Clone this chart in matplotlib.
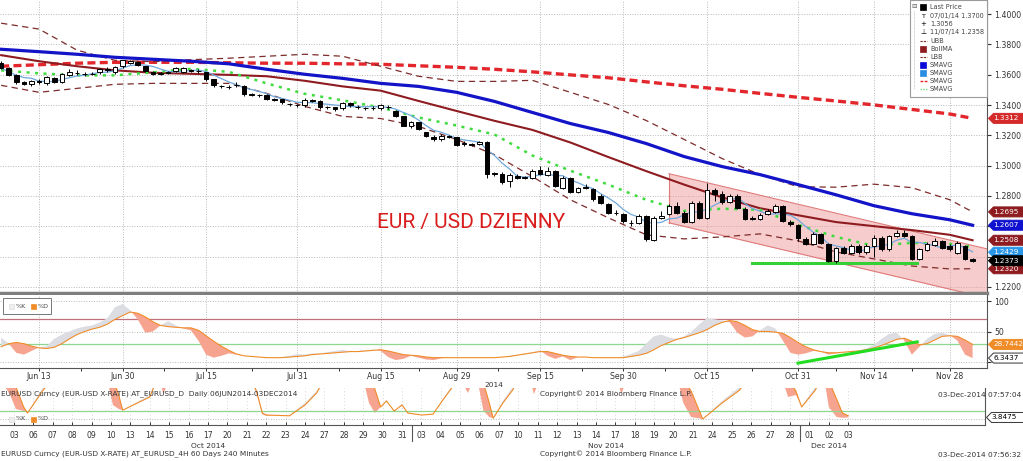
import numpy as np
import pandas as pd
import matplotlib
matplotlib.use("Agg")
import matplotlib.pyplot as plt
from matplotlib.patches import Rectangle, Polygon
from matplotlib.lines import Line2D
import matplotlib.transforms as mtransforms

# ---------------- data ----------------
start_date = "2014-06-06"
end_date = "2014-12-03"

opens = [1.3676, 1.3643, 1.3596, 1.3550, 1.3537, 1.3556, 1.3543, 1.3576, 1.3550, 1.3596,
         1.3612, 1.3605, 1.3603, 1.3616, 1.3636, 1.3616, 1.3656, 1.3676, 1.3682, 1.3656,
         1.3616, 1.3607, 1.3614, 1.3623, 1.3616, 1.3629, 1.3625, 1.3616, 1.3570, 1.3525,
         1.3519, 1.3530, 1.3523, 1.3470, 1.3466, 1.3464, 1.3437, 1.3437, 1.3406, 1.3400,
         1.3398, 1.3431, 1.3424, 1.3386, 1.3384, 1.3378, 1.3411, 1.3386, 1.3380, 1.3378,
         1.3378, 1.3386, 1.3364, 1.3325, 1.3259, 1.3285, 1.3219, 1.3192, 1.3173, 1.3194,
         1.3186, 1.3148, 1.3141, 1.3146, 1.3153, 1.2949, 1.2947, 1.2901, 1.2934, 1.2923,
         1.2921, 1.2974, 1.2941, 1.2967, 1.2855, 1.2921, 1.2828, 1.2857, 1.2848, 1.2802,
         1.2749, 1.2691, 1.2683, 1.2625, 1.2623, 1.2669, 1.2510, 1.2656, 1.2683, 1.2736,
         1.2689, 1.2630, 1.2755, 1.2656, 1.2842, 1.2815, 1.2762, 1.2802, 1.2716, 1.2652,
         1.2650, 1.2683, 1.2696, 1.2736, 1.2630, 1.2610, 1.2517, 1.2484, 1.2550, 1.2484,
         1.2371, 1.2458, 1.2424, 1.2471, 1.2431, 1.2471, 1.2524, 1.2451, 1.2537, 1.2557,
         1.2537, 1.2385, 1.2444, 1.2477, 1.2504, 1.2471, 1.2424, 1.2471, 1.2385]
closes = [1.3643, 1.3596, 1.3550, 1.3537, 1.3556, 1.3550, 1.3583, 1.3550, 1.3603, 1.3616,
          1.3609, 1.3603, 1.3605, 1.3636, 1.3634, 1.3649, 1.3695, 1.3689, 1.3662, 1.3623,
          1.3603, 1.3609, 1.3616, 1.3643, 1.3643, 1.3627, 1.3623, 1.3570, 1.3530, 1.3523,
          1.3517, 1.3532, 1.3470, 1.3468, 1.3464, 1.3437, 1.3435, 1.3417, 1.3404, 1.3398,
          1.3431, 1.3429, 1.3384, 1.3384, 1.3371, 1.3411, 1.3398, 1.3384, 1.3378, 1.3380,
          1.3398, 1.3384, 1.3325, 1.3265, 1.3285, 1.3245, 1.3199, 1.3173, 1.3199, 1.3192,
          1.3139, 1.3146, 1.3139, 1.3159, 1.2947, 1.2947, 1.2894, 1.2941, 1.2921, 1.2921,
          1.2967, 1.2947, 1.2967, 1.2868, 1.2921, 1.2828, 1.2855, 1.2855, 1.2782, 1.2755,
          1.2689, 1.2689, 1.2636, 1.2623, 1.2669, 1.2517, 1.2656, 1.2669, 1.2736, 1.2689,
          1.2630, 1.2755, 1.2656, 1.2842, 1.2815, 1.2762, 1.2802, 1.2722, 1.2650, 1.2650,
          1.2676, 1.2702, 1.2736, 1.2636, 1.2616, 1.2524, 1.2484, 1.2550, 1.2491, 1.2371,
          1.2458, 1.2424, 1.2471, 1.2431, 1.2471, 1.2524, 1.2451, 1.2537, 1.2557, 1.2537,
          1.2385, 1.2451, 1.2484, 1.2504, 1.2458, 1.2451, 1.2491, 1.2385, 1.2373]
highs = [1.3690, 1.3650, 1.3605, 1.3560, 1.3562, 1.3570, 1.3590, 1.3585, 1.3610, 1.3640,
         1.3630, 1.3620, 1.3618, 1.3645, 1.3648, 1.3660, 1.3697, 1.3700, 1.3690, 1.3660,
         1.3625, 1.3620, 1.3625, 1.3650, 1.3650, 1.3640, 1.3635, 1.3620, 1.3575, 1.3535,
         1.3530, 1.3550, 1.3530, 1.3480, 1.3475, 1.3470, 1.3445, 1.3440, 1.3415, 1.3410,
         1.3445, 1.3440, 1.3430, 1.3395, 1.3390, 1.3420, 1.3420, 1.3400, 1.3390, 1.3392,
         1.3410, 1.3398, 1.3370, 1.3330, 1.3295, 1.3290, 1.3225, 1.3200, 1.3210, 1.3205,
         1.3190, 1.3160, 1.3150, 1.3165, 1.3160, 1.2960, 1.2955, 1.2950, 1.2945, 1.2935,
         1.2975, 1.2995, 1.2990, 1.2972, 1.2930, 1.2928, 1.2862, 1.2880, 1.2855, 1.2810,
         1.2755, 1.2705, 1.2690, 1.2640, 1.2680, 1.2675, 1.2665, 1.2700, 1.2745, 1.2760,
         1.2700, 1.2765, 1.2770, 1.2888, 1.2850, 1.2830, 1.2815, 1.2810, 1.2725, 1.2665,
         1.2690, 1.2712, 1.2745, 1.2740, 1.2640, 1.2615, 1.2530, 1.2560, 1.2555, 1.2490,
         1.2465, 1.2470, 1.2480, 1.2480, 1.2480, 1.2545, 1.2535, 1.2545, 1.2575, 1.2575,
         1.2545, 1.2460, 1.2495, 1.2520, 1.2510, 1.2480, 1.2500, 1.2475, 1.2392]
lows = [1.3635, 1.3590, 1.3540, 1.3530, 1.3525, 1.3540, 1.3530, 1.3545, 1.3545, 1.3590,
        1.3595, 1.3592, 1.3595, 1.3605, 1.3620, 1.3605, 1.3645, 1.3670, 1.3655, 1.3615,
        1.3595, 1.3598, 1.3605, 1.3615, 1.3610, 1.3618, 1.3612, 1.3560, 1.3520, 1.3515,
        1.3505, 1.3520, 1.3460, 1.3460, 1.3455, 1.3430, 1.3425, 1.3410, 1.3395, 1.3390,
        1.3390, 1.3420, 1.3375, 1.3372, 1.3360, 1.3370, 1.3390, 1.3375, 1.3370, 1.3368,
        1.3370, 1.3375, 1.3320, 1.3260, 1.3250, 1.3238, 1.3190, 1.3165, 1.3165, 1.3180,
        1.3130, 1.3130, 1.3128, 1.3138, 1.2920, 1.2935, 1.2880, 1.2860, 1.2910, 1.2910,
        1.2915, 1.2940, 1.2935, 1.2860, 1.2845, 1.2820, 1.2820, 1.2845, 1.2765, 1.2745,
        1.2680, 1.2675, 1.2625, 1.2605, 1.2615, 1.2500, 1.2505, 1.2645, 1.2675, 1.2680,
        1.2620, 1.2620, 1.2650, 1.2645, 1.2770, 1.2750, 1.2755, 1.2715, 1.2640, 1.2640,
        1.2640, 1.2675, 1.2690, 1.2630, 1.2605, 1.2505, 1.2475, 1.2478, 1.2480, 1.2365,
        1.2358, 1.2415, 1.2415, 1.2420, 1.2420, 1.2400, 1.2440, 1.2440, 1.2530, 1.2530,
        1.2375, 1.2380, 1.2435, 1.2470, 1.2450, 1.2440, 1.2420, 1.2375, 1.2365]

# indicator lines, read every 5 trading days (day index)
line_idx = [0, 5, 10, 15, 20, 25, 30, 35, 40, 45, 50, 55, 60, 65, 70, 75, 80, 85, 90,
            95, 100, 105, 110, 115, 120, 125, 128]
sma_blue = [1.3768, 1.3752, 1.3735, 1.3715, 1.3702, 1.3689, 1.3672, 1.3636, 1.3603, 1.3576,
            1.3543, 1.3523, 1.3484, 1.3424, 1.3351, 1.3278, 1.3219, 1.3146, 1.3060, 1.2994,
            1.2941, 1.2875, 1.2808, 1.2736, 1.2683, 1.2643, 1.2607]
sma_red = [1.3656, 1.3666, 1.3676, 1.3682, 1.3682, 1.3682, 1.3679, 1.3676, 1.3676, 1.3672,
           1.3669, 1.3659, 1.3649, 1.3636, 1.3619, 1.3599, 1.3580, 1.3553, 1.3527, 1.3504,
           1.3477, 1.3451, 1.3427, 1.3401, 1.3371, 1.3341, 1.3312]
boll_ma = [1.3729, 1.3689, 1.3656, 1.3629, 1.3613, 1.3606, 1.3599, 1.3590, 1.3560, 1.3523,
           1.3495, 1.3427, 1.3361, 1.3296, 1.3236, 1.3153, 1.3057, 1.2964, 1.2875, 1.2791,
           1.2719, 1.2673, 1.2628, 1.2601, 1.2575, 1.2544, 1.2508]
sma_green = [1.3629, 1.3609, 1.3596, 1.3596, 1.3616, 1.3639, 1.3619, 1.3543, 1.3474, 1.3431,
             1.3384, 1.3318, 1.3265, 1.3206, 1.3067, 1.2967, 1.2875, 1.2775, 1.2702, 1.2716,
             1.2709, 1.2610, 1.2530, 1.2471, 1.2491, 1.2484, 1.2464]
boll_upper = [1.3940, 1.3901, 1.3762, 1.3695, 1.3686, 1.3699, 1.3709, 1.3722, 1.3735, 1.3722,
              1.3656, 1.3590, 1.3556, 1.3556, 1.3563, 1.3484, 1.3404, 1.3298, 1.3173, 1.3047,
              1.2941, 1.2861, 1.2858, 1.2878, 1.2855, 1.2775, 1.2695]
boll_lower = [1.3530, 1.3484, 1.3510, 1.3537, 1.3543, 1.3543, 1.3543, 1.3477, 1.3391, 1.3325,
              1.3311, 1.3259, 1.3173, 1.3073, 1.2928, 1.2775, 1.2656, 1.2544, 1.2517, 1.2530,
              1.2550, 1.2504, 1.2431, 1.2385, 1.2338, 1.2319, 1.2320]

# channel (day index) and support line
channel_x = [88, 130]
channel_top = [1.2947, 1.2450]
channel_bot = [1.2623, 1.2126]
support_x = [99, 120.7]
support_y = [1.2358, 1.2358]

tick_dates = ["2014-06-13", "2014-06-30", "2014-07-15", "2014-07-31", "2014-08-15", "2014-08-29",
              "2014-09-15", "2014-09-30", "2014-10-15", "2014-10-31", "2014-11-14", "2014-11-28"]
tick_labels = ["Jun 13", "Jun 30", "Jul 15", "Jul 31", "Aug 15", "Aug 29",
               "Sep 15", "Sep 30", "Oct 15", "Oct 31", "Nov 14", "Nov 28"]

# stochastics (daily), one value per day
stoch_k = [40, 30, 15, 12, 18, 24, 26, 38, 45, 50, 55, 58, 60, 65, 72, 90, 95, 85, 70, 48,
           50, 60, 67, 60, 55, 52, 35, 12, 7, 10, 14, 12, 10, 9, 8, 7, 7, 8, 10, 13,
           12, 14, 14, 16, 18, 20, 17, 18, 19, 20, 18, 8, 3, 5, 10, 7, 4, 3, 6, 7,
           7, 8, 7, 8, 7, 7, 8, 10, 12, 14, 16, 19, 10, 5, 9, 3, 8, 8, 7, 7,
           7, 7, 9, 13, 18, 30, 42, 45, 40, 38, 42, 50, 62, 72, 70, 68, 65, 48, 40, 42,
           52, 60, 55, 35, 15, 12, 14, 18, 17, 12, 14, 16, 18, 19, 22, 28, 38, 46, 48, 35,
           12, 25, 38, 46, 48, 44, 35, 12, 6.3437]
stoch_d = [25, 30, 32, 30, 26, 23, 22, 24, 30, 38, 45, 50, 54, 57, 62, 70, 76, 82, 80, 74,
           66, 60, 58, 57, 56, 56, 52, 43, 34, 26, 19, 13, 10, 9, 8, 7, 7, 7, 8, 9,
           10, 12, 13, 14, 15, 16, 17, 17, 18, 19, 20, 18, 15, 12, 11, 10, 8, 7, 7, 7,
           7, 7, 7, 7, 7, 7, 8, 9, 11, 13, 15, 17, 17, 14, 11, 9, 8, 8, 7, 7,
           7, 7, 7, 9, 11, 14, 20, 27, 32, 37, 40, 44, 48, 53, 60, 65, 68, 66, 60, 53,
           50, 50, 49, 47, 40, 32, 25, 20, 17, 15, 15, 16, 17, 18, 20, 23, 27, 32, 37, 39,
           34, 28, 30, 36, 42, 43, 42, 36, 28.7442]
stoch_trend_x = [105, 120.7]
stoch_trend_y = [-2, 33]

# 4H stochastics (x in trading-day units from 03 Oct)
h4_start, h4_end = "2014-10-03", "2014-12-03"
h4_x = [-0.7, -0.2, 0.1, 0.5, 0.7, 1.5, 2.0, 4.8, 5.1, 5.4, 5.6, 7.0, 7.3, 7.5, 7.7, 8.0,
        12.2, 12.5, 12.8, 13.0, 14.2, 15.0, 15.6, 16.0, 18.0, 18.3, 18.6, 18.9, 19.2, 19.6,
        20.0, 20.3, 21.0, 21.6, 22.1, 22.6, 23.0, 23.4, 23.7, 23.9, 24.2, 24.5, 24.7, 25.2,
        25.7, 26.0, 26.6, 26.8, 27.1, 31.1, 31.3, 31.6, 34.2, 34.5, 34.9, 35.5, 36.5, 37.4,
        37.8, 39.6, 39.9, 40.3, 40.6, 41.3, 41.6, 41.8, 42.0, 42.4, 42.7, 43.0]
h4_k = [100, 60, 25, 20, 15, 80, 100, 100, 35, 25, 22, 60, 100, 100, 62, 100,
        100, 65, 12, 8, 10, 40, 70, 100, 100, 40, 15, 30, 48, 18,
        38, 14, 10, 12, 50, 85, 100, 65, 100, 95, 20, 5, 2, 45,
        80, 100, 100, 62, 100, 100, 62, 100, 100, 40, 5, 0, 45, 80,
        100, 100, 55, 60, 32, 80, 100, 90, 30, 5, 3, 3.8475]
h4_d = [100, 100, 80, 30, 15, 72, 100, 100, 100, 60, 22, 55, 90, 100, 100, 100,
        100, 70, 15, 10, 8, 35, 65, 100, 100, 100, 75, 30, 45, 20,
        35, 15, 10, 12, 47, 80, 100, 100, 100, 100, 90, 40, 2, 40,
        72, 100, 100, 100, 100, 100, 100, 100, 100, 100, 70, 0, 40, 72,
        100, 100, 100, 70, 30, 72, 100, 100, 95, 50, 15, 8]

legend_labels = ["Last Price", "07/01/14 1.3700", "1.3056", "11/07/14 1.2358", "UBB", "BollMA",
                 "LBB", "SMAVG", "SMAVG", "SMAVG", "SMAVG"]

# ---------------- colours ----------------
C_RED = "#e3262b"
C_BLUE = "#1313c8"
C_DKRED = "#8e1b1f"
C_BAND = "#7d2b2b"
C_GREEN = "#3fdc3f"
C_LBLUE = "#6fa8dc"
C_ORANGE = "#f08c28"
C_SALMON = "#f6a48f"
C_KGRAY = "#dcdce3"
GRID = "#b9b9b9"

W, H = 1023, 461
fig = plt.figure(figsize=(W / 100, H / 100), dpi=100)
plt.rcParams["font.family"] = ["DejaVu Sans"]


def fr(x0, y0, x1, y1):
    return [x0 / W, 1 - y1 / H, (x1 - x0) / W, (y1 - y0) / H]


def fy(y):
    return 1 - y / H


ax = fig.add_axes(fr(0, 0, 987, 293))
sto = fig.add_axes(fr(0, 295, 987, 368))
h4 = fig.add_axes(fr(0, 388, 985, 425))

dates = pd.bdate_range(start_date, end_date)
idx = np.arange(len(dates))
o = np.array(opens); c = np.array(closes); hi = np.array(highs); lo = np.array(lows)
tick_pos = dates.get_indexer(pd.to_datetime(tick_dates))

XL = (-0.15, 129.9)

# ---------------- main panel ----------------
ax.set_xlim(*XL)
ax.set_ylim(1.2160, 1.4093)
ax.set_xticks(tick_pos)
ax.tick_params(axis="x", length=0, labelbottom=False)
yt = np.round(np.arange(1.22, 1.4001, 0.02), 2)
ax.set_yticks(yt)
ax.set_yticklabels(["" if v in (1.24, 1.26) else f"{v:.4f}" for v in yt])
ax.yaxis.tick_right()
ax.tick_params(axis="y", direction="out", length=3, width=0.8, pad=2,
               labelsize=5.6, colors="#333333")
ax.grid(True, color=GRID, ls=(0, (1, 1.6)), lw=0.7)
ax.set_axisbelow(True)
for s in ("left", "top"):
    ax.spines[s].set_visible(False)
ax.spines["right"].set_color("#555555"); ax.spines["right"].set_linewidth(0.8)
ax.spines["bottom"].set_color("#7f7f7f"); ax.spines["bottom"].set_linewidth(2.5)

# channel
ax.fill_between(channel_x, channel_bot, channel_top, color="#f09a9a", alpha=0.5, lw=0, zorder=1)
ax.plot(channel_x, channel_top, color="#e07a7a", lw=0.8, zorder=1.5)
ax.plot(channel_x, channel_bot, color="#e07a7a", lw=0.8, zorder=1.5)
ax.plot([channel_x[0], channel_x[0]], [channel_bot[0], channel_top[0]], color="#e07a7a", lw=0.8, zorder=1.5)

ax.plot(line_idx, sma_red, color=C_RED, lw=2.4, dashes=(2.4, 1.3), zorder=3)
ax.plot(line_idx, boll_upper, color=C_BAND, lw=0.9, dashes=(5, 3.5), zorder=3)
ax.plot(line_idx, boll_lower, color=C_BAND, lw=0.9, dashes=(5, 3.5), zorder=3)
ax.plot(line_idx, boll_ma, color=C_DKRED, lw=1.5, zorder=3)
ax.plot(line_idx, sma_blue, color=C_BLUE, lw=2.3, zorder=3)
ax.plot(line_idx, sma_green, color=C_GREEN, lw=1.8, dashes=(1.2, 2.2), zorder=3)
sma5 = pd.Series(c).rolling(5, min_periods=1).mean()
ax.plot(idx, sma5, color=C_LBLUE, lw=0.9, zorder=4)
ax.plot(support_x, support_y, color="#35d035", lw=2.2, zorder=4)

# candles
up = c >= o
ax.vlines(idx, lo, hi, color="black", lw=0.7, zorder=5)
bb = np.minimum(o, c); bh = np.abs(c - o)
ax.bar(idx[up], bh[up], bottom=bb[up], width=0.62, color="white", edgecolor="black", lw=0.7, zorder=6)
ax.bar(idx[~up], bh[~up], bottom=bb[~up], width=0.62, color="black", edgecolor="black", lw=0.7, zorder=6)

ax.text(471 / 987, 1 - 222 / 293, "EUR / USD DZIENNY", transform=ax.transAxes, ha="center",
        va="center", color="#d91c1c", fontsize=15, family=["Roboto", "DejaVu Sans"])

# ---------------- stochastic panel ----------------
sto.set_xlim(*XL)
sto.set_ylim(-10, 110)
K = np.array(stoch_k, dtype=float); D = np.array(stoch_d, dtype=float)
sto.fill_between(idx, K, D, where=K < D, interpolate=True, color=C_SALMON, lw=0, zorder=2)
sto.fill_between(idx, K, D, where=K >= D, interpolate=True, color=C_KGRAY, lw=0, zorder=2)
sto.plot(idx, D, color=C_ORANGE, lw=0.8, zorder=3)
sto.axhline(70, color="#c0707c", lw=0.9, zorder=1.5)
sto.axhline(30, color="#8fd68f", lw=0.9, zorder=1.5)
sto.plot(stoch_trend_x, stoch_trend_y, color="#22dd22", lw=2.2, zorder=4)
sto.set_yticks([0, 50, 100])
sto.set_yticklabels(["", "50", "100"])
sto.yaxis.tick_right()
sto.tick_params(axis="y", direction="out", length=3, width=0.8, pad=2, labelsize=5.6, colors="#333333")
sto.set_xticks(tick_pos)
sto.set_xticklabels(tick_labels)
sto.set_xticks((tick_pos[:-1] + tick_pos[1:]) / 2, minor=True)
sto.tick_params(axis="x", which="both", direction="out", length=2.5, width=0.7, pad=0.5,
                labelsize=5.6, colors="#333333")
sto.grid(True, color=GRID, ls=(0, (1, 1.6)), lw=0.7)
sto.set_axisbelow(True)
for s in ("left", "top"):
    sto.spines[s].set_visible(False)
for s in ("right", "bottom"):
    sto.spines[s].set_color("#555555"); sto.spines[s].set_linewidth(0.8)

# ---------------- 4H panel ----------------
days4 = pd.bdate_range(h4_start, h4_end)
d4 = np.arange(len(days4))
h4.set_xlim(-0.72, 50.05)
h4.set_ylim(-15, 77.5)
hx = np.array(h4_x); hk = np.array(h4_k, dtype=float); hd = np.array(h4_d, dtype=float)
h4.fill_between(hx, hk, hd, where=hk < hd, interpolate=True, color=C_SALMON, lw=0, zorder=2)
h4.fill_between(hx, hk, hd, where=hk >= hd, interpolate=True, color=C_KGRAY, lw=0, zorder=2)
h4.plot(hx, hd, color=C_ORANGE, lw=0.8, zorder=3)
h4.axhline(20, color="#8fd68f", lw=0.9)
h4.axhline(0, color=GRID, lw=0.7, ls=(0, (1, 1.6)))
h4.set_xticks(d4)
h4.set_xticklabels([d.strftime("%d") for d in days4])
h4.tick_params(axis="x", direction="in", length=2.5, width=0.7, pad=4, labelsize=5.5, colors="#333333")
h4.set_yticks([])
h4.grid(True, axis="x", color="#c8c8c8", ls=(0, (1, 3)), lw=0.6)
for s in ("left", "top"):
    h4.spines[s].set_visible(False)
for s in ("right", "bottom"):
    h4.spines[s].set_color("#555555"); h4.spines[s].set_linewidth(0.8)
blend = mtransforms.blended_transform_factory(h4.transData, fig.transFigure)
months = pd.Series(days4.month)
for m, name in [(10, "Oct 2014"), (11, "Nov 2014"), (12, "Dec 2014")]:
    pos = d4[months.values == m]
    fig.text(pos.mean() if m != 12 else pos[0] + 1.0, fy(445.5), name, transform=blend,
             ha="center", va="center", fontsize=5.4, color="#333333")
    if m != 10:
        sep = pos[0] - 0.5
        fig.add_artist(Line2D([sep, sep], [fy(425), fy(441)], transform=blend, color="#555555", lw=0.8))

# ---------------- texts ----------------
tk = dict(fontsize=5.3, color="#333333", va="center")
fig.text(1 / W, fy(394), "EURUSD Curncy (EUR-USD X-RATE) AT_EURUSD_D  Daily 06JUN2014-03DEC2014", **tk)
fig.text(540 / W, fy(394), "Copyright\u00a9 2014 Bloomberg Finance L.P.", **tk)
fig.text(1021 / W, fy(395), "03-Dec-2014 07:57:04", ha="right", **tk)
fig.text(494 / W, fy(385), "2014", ha="center", **tk)
fig.text(1 / W, fy(454), "EURUSD Curncy (EUR-USD X-RATE) AT_EURUSD_4H 60 Days 240 Minutes", **tk)
fig.text(540 / W, fy(454), "Copyright\u00a9 2014 Bloomberg Finance L.P.", **tk)
fig.text(1021 / W, fy(455), "03-Dec-2014 07:56:32", ha="right", **tk)


def pbox(axis, val, face, tcolor, edge, label, z):
    yd = axis.transData.transform((0, val))[1]
    x0 = axis.bbox.x1 + 1.5
    hh = 5
    pts = [(x0, yd), (x0 + 5, yd + hh), (x0 + 40, yd + hh), (x0 + 40, yd - hh), (x0 + 5, yd - hh)]
    fpts = fig.transFigure.inverted().transform(pts)
    fig.add_artist(Polygon(fpts, closed=True, transform=fig.transFigure, facecolor=face,
                           edgecolor=edge, lw=0.7, zorder=z))
    fig.text((x0 + 4.5) / W, yd / H, label, color=tcolor, fontsize=5.2, ha="left",
             va="center", zorder=z + 0.5)


pbox(ax, sma_red[-1], "#d42a2a", "white", "#d42a2a", f"{sma_red[-1]:.4f}", 10)
pbox(ax, boll_upper[-1], "#8e1b1f", "white", "#8e1b1f", "1.2695", 10)
pbox(ax, sma_blue[-1], "#1010d0", "white", "#1010d0", f"{sma_blue[-1]:.4f}", 10)
pbox(ax, boll_ma[-1], "#8e1b1f", "white", "#8e1b1f", f"{boll_ma[-1]:.4f}", 10)
pbox(ax, boll_lower[-1], "#8e1b1f", "white", "#8e1b1f", f"{boll_lower[-1]:.4f}", 10)
pbox(ax, 1.2429, "#2a96e8", "white", "#2a96e8", "1.2429", 11)
pbox(ax, closes[-1], "black", "white", "black", f"{closes[-1]:.4f}", 12)
pbox(sto, stoch_d[-1], C_ORANGE, "white", C_ORANGE, f"{stoch_d[-1]:.4f}", 10)
pbox(sto, stoch_k[-1], "white", "black", "#333333", f"{stoch_k[-1]:.4f}", 10)
pbox(h4, h4_k[-1], "white", "black", "#333333", f"{h4_k[-1]:.4f}", 10)

# main legend
fig.add_artist(Rectangle((910 / W, fy(97)), 77 / W, 97 / H, transform=fig.transFigure,
                         facecolor="white", edgecolor="#9a9a9a", lw=0.8, zorder=8))
ly = [7, 16, 24, 32, 41, 49, 57, 65, 73, 81, 89]
for lab, yy in zip(legend_labels, ly):
    fig.text(930 / W, fy(yy), lab, fontsize=4.7, color="#444444", va="center", zorder=9)


def sq(x, y, col, edge=None, size=6):
    fig.add_artist(Rectangle((x / W, fy(y + size / 2)), size / W, size / H, transform=fig.transFigure,
                             facecolor=col, edgecolor=edge or col, lw=0.5, zorder=9))


def ln(y, col, **kw):
    fig.add_artist(Line2D([920 / W, 927 / W], [fy(y), fy(y)], transform=fig.transFigure,
                          color=col, zorder=9, **kw))


sq(920, 7, "black")
fig.text(923 / W, fy(16), "T", fontsize=4.6, ha="center", va="center", zorder=9)
fig.text(923 / W, fy(24), "+", fontsize=5, ha="center", va="center", zorder=9)
fig.text(923 / W, fy(32), "\u22a5", fontsize=5, ha="center", va="center", zorder=9)
ln(41, C_BAND, lw=0.8, ls=(0, (2, 1)))
sq(920, 49, C_DKRED)
ln(57, C_BAND, lw=0.8, ls=(0, (2, 1)))
sq(920, 65, "#0a0ad8")
sq(920, 73, "#2a8ee0")
ln(81, C_RED, lw=1.0, ls=(0, (2, 1)))
ln(89, "#7ddc7d", lw=1.0, ls=(0, (1, 1)))
fig.text(914 / W, fy(7), "\u229f", fontsize=4.6, ha="center", va="center", color="#555555", zorder=9)
fig.add_artist(Line2D([914 / W, 914 / W], [fy(11), fy(89)], transform=fig.transFigure,
                      color="#aaaaaa", lw=0.5, ls=(0, (1, 1)), zorder=9))

# stochastic legends
fig.add_artist(Rectangle((3 / W, fy(314)), 48 / W, 16 / H, transform=fig.transFigure,
                         facecolor="white", edgecolor="#777777", lw=0.7, zorder=8))
sq(9, 306, "#eeeeee", "#dddddd", 5)
fig.text(16 / W, fy(306), "%K", fontsize=4.6, color="#444444", va="center", zorder=9)
sq(31, 306, C_ORANGE, None, 5)
fig.text(38 / W, fy(306), "%D", fontsize=4.6, color="#444444", va="center", zorder=9)
sq(9, 419, "#eeeeee", "#dddddd", 5)
fig.text(16 / W, fy(419), "%K", fontsize=4.6, color="#444444", va="center", zorder=9)
sq(31, 419, C_ORANGE, None, 5)
fig.text(38 / W, fy(419), "%D", fontsize=4.6, color="#444444", va="center", zorder=9)

fig.savefig("out.png", dpi=100, facecolor="white")
